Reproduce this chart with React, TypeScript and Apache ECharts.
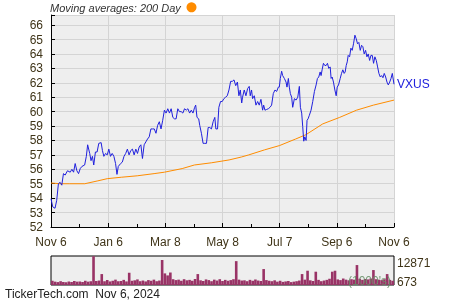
import { useEffect, useRef } from 'react';
import * as echarts from 'echarts';

const xTickLabels = ['Nov 6', 'Jan 6', 'Mar 8', 'May 8', 'Jul 7', 'Sep 6', 'Nov 6'];

const priceDays = [
  0, 1.8, 4.3, 6.1, 7.9, 9.7, 11.5, 13.3, 15.1, 17.6, 20.5, 22.3, 24.1, 25.8, 27.6, 29.4, 31.2, 33.0, 35.9, 37.7,
  39.1, 41.3, 42.7, 44.2, 45.6, 47.4, 49.2, 51.0, 53.5, 54.9, 56.4, 58.2, 60.0, 61.7, 63.5, 65.3, 67.1, 68.9, 70.4, 71.8,
  74.3, 76.1, 77.9, 79.7, 81.5, 83.3, 85.1, 86.9, 88.7, 90.5, 92.3, 94.1, 95.9, 97.6, 99.4, 101.2, 103.0, 104.8, 106.6, 108.4,
  110.2, 112.0, 113.8, 115.6, 117.4, 119.2, 121.0, 122.8, 124.6, 126.4, 128.2, 130.0, 131.8, 133.5, 135.3, 137.1, 138.9, 140.7, 142.5, 144.3,
  146.1, 147.9, 149.7, 151.5, 153.3, 154.4, 155.8, 157.6, 158.7, 160.5, 162.3, 164.1, 165.9, 167.7, 169.4, 171.2, 173.0, 174.8, 175.9, 177.7,
  179.1, 180.9, 182.7, 184.5, 186.3, 188.1, 189.9, 191.7, 193.5, 195.3, 197.1, 198.9, 200.5, 202.0, 203.5, 204.4, 206.2, 208.0, 209.8, 211.5,
  212.6, 214.0, 215.1, 216.9, 218.7, 220.5, 222.2, 224.0, 225.8, 226.9, 228.3, 230.1, 231.9, 233.7, 235.4, 237.2, 239.0, 240.8, 242.6, 243.6,
  244.7, 246.1, 247.2, 249.0, 250.8, 251.8, 253.3, 254.3, 255.4, 256.8, 257.9, 259.7, 261.5, 263.3, 265.0, 266.1, 267.5, 268.6, 269.7, 270.8,
  272.2, 273.2, 274.3, 275.7, 277.5, 279.3, 281.1, 282.9, 284.3, 285.7, 287.2, 288.2, 289.3, 290.7, 292.2, 293.6, 295.0, 296.4, 297.9, 298.9,
  300.0, 301.4, 302.9, 304.3, 305.4, 306.8, 308.6, 310.0, 311.4, 312.8, 313.9, 315.0, 316.1, 317.1, 318.6, 320.0, 321.4, 322.8, 324.3, 325.7,
  327.1, 328.5, 330.0, 331.4, 332.8, 334.2, 335.7, 337.1, 338.5, 340.0, 341.4, 342.8, 344.2, 345.6, 347.1, 348.5, 349.9, 351.4, 352.8, 354.2,
  355.6, 357.1, 358.5, 359.9, 361.4, 362.8, 364.2, 366,
];

const priceValues = [
  53.96, 53.4, 53.3, 53.85, 55.0, 55.1, 54.9, 55.7, 55.6, 55.9, 55.8, 56.0, 55.8, 56.4, 55.9, 55.7, 56.05, 56.2, 56.3, 56.9,
  57.7, 57.1, 56.6, 56.9, 56.3, 57.2, 57.2, 57.8, 57.85, 57.3, 56.9, 57.1, 57.0, 57.4, 56.9, 57.1, 56.9, 56.4, 55.65, 56.2,
  56.4, 56.5, 56.9, 57.1, 57.4, 57.0, 57.3, 57.4, 57.0, 57.4, 57.1, 57.55, 57.7, 56.75, 57.7, 57.9, 58.1, 58.25, 58.8, 58.8,
  58.8, 58.5, 59.05, 59.3, 58.8, 59.4, 60.1, 59.9, 60.2, 59.9, 60.2, 59.6, 59.5, 59.5, 60.2, 60.0, 60.0, 59.9, 60.2, 60.1,
  60.2, 59.9, 60.1, 59.9, 60.3, 60.45, 59.6, 59.5, 59.05, 58.5, 57.8, 57.8, 57.8, 58.9, 58.9, 58.8, 59.3, 59.6, 58.8, 58.8,
  60.3, 60.7, 60.7, 60.9, 61.0, 61.1, 61.5, 62.1, 62.1, 62.2, 61.8, 62.05, 61.1, 61.5, 60.6, 61.0, 61.5, 61.1, 61.6, 61.75,
  61.1, 61.5, 60.9, 61.1, 60.45, 60.7, 60.45, 60.85, 60.1, 60.45, 60.1, 60.15, 60.2, 60.3, 60.45, 61.25, 61.5, 61.4, 61.7, 61.7,
  62.3, 62.8, 62.5, 62.3, 62.05, 61.7, 62.3, 61.7, 61.25, 61.0, 60.3, 60.9, 60.8, 61.0, 61.75, 60.3, 59.9, 58.95, 57.95, 58.25,
  58.0, 59.4, 59.5, 59.75, 60.1, 60.7, 61.4, 61.85, 62.3, 62.4, 62.75, 62.5, 62.9, 63.35, 63.2, 63.2, 63.35, 63.0, 63.1, 62.3,
  62.4, 62.05, 61.5, 61.1, 61.7, 61.85, 62.3, 62.65, 62.9, 62.65, 62.75, 63.2, 63.45, 63.9, 63.8, 64.4, 64.25, 64.7, 65.3, 65.05,
  64.7, 64.8, 64.25, 64.6, 64.5, 64.0, 64.25, 63.8, 64.0, 63.55, 63.9, 63.9, 63.35, 63.8, 63.55, 63.1, 62.65, 62.4, 62.5, 62.35,
  62.65, 62.4, 62.05, 61.85, 62.05, 62.3, 62.65, 61.9,
];

const maDays = [0, 10, 20, 36, 50, 60, 75, 92, 110, 121, 140, 153, 171, 190, 203, 211, 228, 244, 261, 272, 290, 308, 326, 344, 366];
const maValues = [
  55.05, 55.0, 55.0, 55.0, 55.2, 55.35, 55.45, 55.55, 55.7, 55.8, 56.05, 56.3, 56.45, 56.65, 56.85, 57.0, 57.35, 57.65,
  58.1, 58.4, 59.15, 59.6, 60.1, 60.45, 60.8,
];

const volumes = [
  1900, 1500, 1300, 1700, 1400, 1200, 1600, 1300, 1800, 1500,
  1600, 1400, 1900, 1500, 1700, 12871, 1800, 2000, 4900, 1700,
  2200, 1600, 1900, 2400, 1700, 1800, 2300, 1600, 5500, 1900,
  2100, 2500, 1700, 2000, 1600, 2200, 1900, 2400, 1700, 2000,
  11200, 5200, 4300, 5600, 2600, 2200, 2400, 1900, 2600, 2100,
  2300, 1900, 2700, 4900, 2100, 1800, 2500, 2200, 1700, 2400,
  2000, 2600, 1800, 2300, 1900, 2200, 2600, 10700, 2400, 2000,
  2100, 1700, 2300, 1900, 2500, 2000, 1800, 7150, 2200, 1900,
  1700, 2100, 1500, 1900, 1400, 1600, 1800, 1300, 1500, 1700,
  2000, 4900, 2400, 6400, 2100, 1800, 5960, 2300, 1700, 2000,
  2300, 2800, 5960, 6400, 2500, 2200, 2900, 2400, 2100, 2600,
  2400, 8940, 2800, 2300, 2700, 2500, 2900, 6700, 2600, 2400,
  2200, 2600, 4900, 2300, 1900,
];

const volumeTopLabel = '12871';
const volumeBottomLabel = '673';
const tickerName = 'VXUS';

const FONT = '"Liberation Sans", Arial, sans-serif';
const LABEL_COLOR = '#3f3418';

export default function App() {
  const ref = useRef<HTMLDivElement>(null);
  useEffect(() => {
    const chart = echarts.init(ref.current!, null, { renderer: 'svg' });
    chart.setOption({
      animation: false,
      textStyle: { fontFamily: FONT },
      grid: [
        { left: 51, right: 56, top: 15, bottom: 73, show: true, backgroundColor: '#eeeeee', borderWidth: 0 },
        { left: 51, right: 56, top: 256, height: 29, show: true, backgroundColor: '#eeeeee', borderColor: '#000', borderWidth: 1 },
      ],
      xAxis: [
        {
          type: 'value', gridIndex: 0, min: 0, max: 366, interval: 61,
          axisLine: { show: true, lineStyle: { color: '#000', width: 1 } },
          axisTick: { show: true, inside: true, length: 4, lineStyle: { color: '#000' } },
          minorTick: { show: true, splitNumber: 2, length: 3, lineStyle: { color: '#000' } },
          splitLine: { show: true, lineStyle: { color: '#d4d4d4', width: 1 } },
          axisLabel: {
            margin: 9, fontSize: 12, color: LABEL_COLOR, fontFamily: FONT,
            formatter: (v: number) => xTickLabels[Math.round(v / 61)] ?? '',
          },
        },
        { type: 'category', gridIndex: 1, data: volumes.map((_, i) => i), show: false },
      ],
      yAxis: [
        {
          type: 'value', gridIndex: 0, min: 52, max: 66.7, interval: 1,
          axisLine: { show: true, lineStyle: { color: '#000', width: 1 } },
          axisTick: { show: true, inside: true, length: 4, lineStyle: { color: '#000' } },
          splitLine: { show: true, lineStyle: { color: '#d4d4d4', width: 1 } },
          axisLabel: {
            margin: 8, fontSize: 12, color: LABEL_COLOR, fontFamily: FONT,
            formatter: (v: number) => (Math.abs(v - Math.round(v)) < 1e-6 ? String(Math.round(v)) : ''),
          },
        },
        { type: 'value', gridIndex: 1, min: 0, max: 13000, show: false },
      ],
      series: [
        {
          type: 'line', xAxisIndex: 0, yAxisIndex: 0,
          data: maDays.map((d, i) => [d, maValues[i]]),
          showSymbol: false, lineStyle: { color: '#ff8c00', width: 1 }, z: 2,
        },
        {
          type: 'line', xAxisIndex: 0, yAxisIndex: 0,
          data: priceDays.map((d, i) => [d, priceValues[i]]),
          showSymbol: false, lineStyle: { color: '#2020dd', width: 1 }, z: 3,
          endLabel: { show: true, formatter: tickerName, color: '#2020dd', fontSize: 12, fontFamily: FONT, distance: 3 },
        },
        {
          type: 'bar', xAxisIndex: 1, yAxisIndex: 1, data: volumes,
          itemStyle: { color: '#993366' }, barCategoryGap: '5%',
        },
      ],
      graphic: [
        { type: 'text', left: 50, top: 2, style: { text: 'Moving averages: 200 Day', font: `italic 11px ${FONT}`, fill: '#333' } },
        { type: 'circle', shape: { cx: 191.5, cy: 7.3, r: 5 }, style: { fill: '#ff8c00' } },
        { type: 'text', x: 397, y: 263, style: { text: volumeTopLabel, font: `12px ${FONT}`, fill: LABEL_COLOR, verticalAlign: 'middle' } },
        { type: 'text', x: 397, y: 282, style: { text: volumeBottomLabel, font: `12px ${FONT}`, fill: LABEL_COLOR, verticalAlign: 'middle' } },
        { type: 'text', x: 348, y: 281, z: 10, style: { text: "(1000's)", font: `12px ${FONT}`, fill: 'rgba(100,140,100,0.85)', verticalAlign: 'middle' } },
        { type: 'text', x: 5, y: 293.5, style: { text: 'TickerTech.com  Nov 6, 2024', font: `12px ${FONT}`, fill: '#222', verticalAlign: 'middle' } },
      ],
    });
    return () => chart.dispose();
  }, []);
  return <div ref={ref} style={{ position: 'fixed', left: 0, top: 0, width: 450, height: 300 }} />;
}
